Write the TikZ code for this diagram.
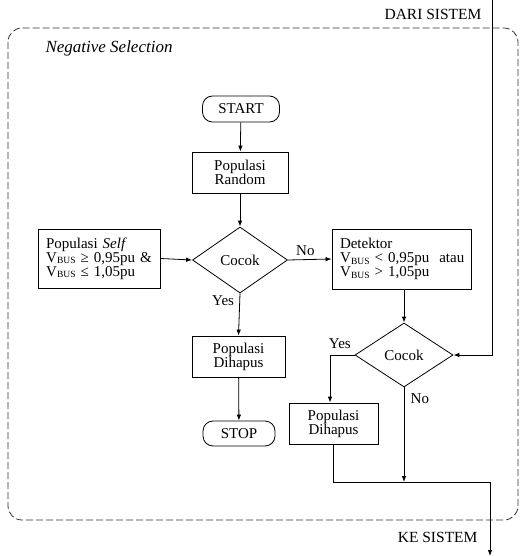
\documentclass[tikz,border=0pt]{standalone}
\usepackage{fontspec}
\setmainfont{Liberation Serif}
\usetikzlibrary{shapes.geometric,arrows.meta}
\newcommand{\vbus}{V\kern0.3pt\raisebox{-1.5pt}{\fontsize{9.5}{9.5}\selectfont BUS}}
\begin{document}
\begin{tikzpicture}[x=1pt,y=-1pt,
  every node/.style={font=\fontsize{15}{17}\selectfont},
  box/.style={draw, line width=0.8pt, inner sep=0pt, align=center},
  term/.style={draw, line width=0.8pt, rounded corners=10pt, inner sep=0pt},
  dec/.style={draw, line width=0.8pt, diamond, inner sep=0pt},
  conn/.style={line width=0.8pt},
  arr/.style={line width=0.8pt, -{Latex[length=6pt,width=4.5pt]}},
  lbl/.style={font=\fontsize{15}{17}\selectfont}]
\useasboundingbox (0,0) rectangle (522,556);
% frame
\draw[dash pattern=on 7pt off 3pt, line width=0.8pt, black!80, rounded corners=14pt] (8,28) rectangle (518,520);
\node[anchor=west, font=\fontsize{17}{19}\selectfont\itshape] (ns) at (42,48) {Negative Selection};
\node[anchor=east, font=\fontsize{15.5}{17}\selectfont] (dari) at (485,14) {DARI SISTEM};
\node[anchor=east, font=\fontsize{15.5}{17}\selectfont] (ke) at (481,537) {KE SISTEM};
% nodes
\node[term, minimum width=77pt, minimum height=26pt] (start) at (241,109) {START};
\node[box, minimum width=96pt, minimum height=41pt] (rand) at (240,172.5) {Populasi\\[-3pt]Random};
\node[dec, minimum width=95pt, minimum height=66pt] (c1) at (240,260) {Cocok};
\node[box, minimum width=122pt, minimum height=59pt, inner xsep=8pt, text width=106pt, align=left] (self) at (99,258.5) {Populasi \textit{Self}\\[-3pt]\vbus{} ≥ 0,95pu \&\\[-3pt]\vbus{} ≤ 1,05pu};
\node[box, minimum width=139pt, minimum height=60pt, inner xsep=8pt, text width=123pt, align=left] (det) at (401.5,259) {Detektor\\[-3pt]\mbox{\vbus{} < 0,95pu\ \ atau}\\[-3pt]\vbus{} > 1,05pu};
\node[box, minimum width=93pt, minimum height=41pt] (dh1) at (238.5,356.5) {Populasi\\[-3pt]Dihapus};
\node[term, minimum width=72pt, minimum height=25pt] (stop) at (239,433.5) {STOP};
\node[dec, minimum width=98pt, minimum height=64pt] (c2) at (404,355) {Cocok};
\node[box, minimum width=89pt, minimum height=41pt] (dh2) at (333.5,423.5) {Populasi\\[-3pt]Dihapus};
% coordinates
\coordinate (din) at (492,0);
\coordinate (join) at (404,482);
\coordinate (corner1) at (333,482);
\coordinate (corner2) at (490,482);
\coordinate (kout) at (490,556);
% connectors
\draw[arr] (start) -- (rand);
\draw[arr] (rand) -- (c1.north);
\draw[arr] (self.east) -- (c1.west);
\draw[arr] (c1.east) -- node[lbl, above, pos=0.4] {No} (det.west);
\draw[arr] (c1.south) -- node[lbl, pos=0.17, left=2pt] {Yes} (dh1.north);
\draw[arr] (dh1) -- (stop);
\draw[arr] (c2.north |- det.south) -- (c2.north);
\draw[arr] (din) |- (c2.east);
\draw[arr] (c2.west) -| node[lbl, pos=0.3, above=3pt] {Yes} (330,0 |- dh2.north);
\draw[arr] (c2.south) -- node[lbl, pos=0.12, right=3pt] {No} (join);
\draw[conn] (dh2.south -| corner1) -- (corner1) -- (corner2);
\draw[arr] (corner2) -- (kout);
\end{tikzpicture}
\end{document}
